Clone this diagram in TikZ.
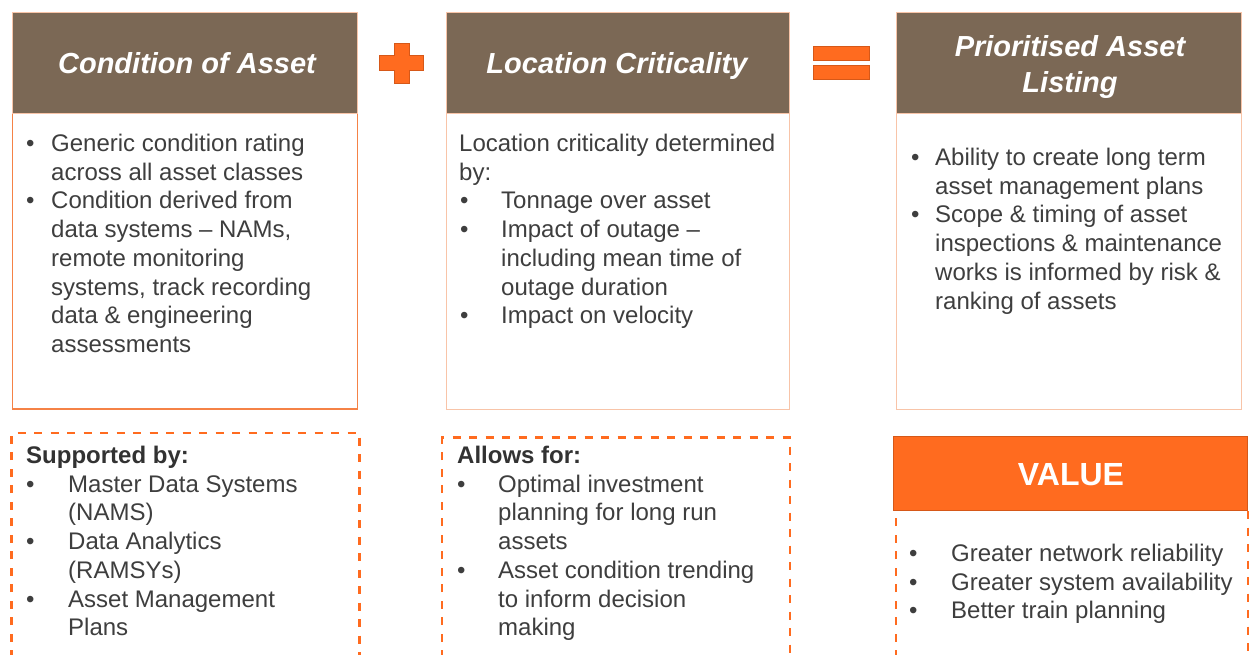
\documentclass[tikz,border=0pt]{standalone}
\usepackage{fontspec}
\setmainfont{Liberation Sans}
\usepackage{array}
\definecolor{hbrown}{RGB}{123,104,85}
\definecolor{borange}{RGB}{255,107,31}
\definecolor{dorange}{RGB}{214,88,24}
\definecolor{lorange}{RGB}{248,196,168}
\definecolor{morange}{RGB}{245,130,70}
\definecolor{tgray}{RGB}{62,62,62}
\tikzset{
  hdrbox/.style={fill=hbrown, draw=lorange, line width=0.8pt},
  hdrtext/.style={text=white, font=\fontsize{29}{36}\selectfont\bfseries\itshape, inner sep=0, anchor=base},
  bodytext/.style={text=tgray, font=\fontsize{24}{28.7}\selectfont, inner sep=0, anchor=base west},
  dashbox/.style={draw=borange, line width=2.4pt, dash pattern=on 8pt off 8.5pt},
  sym/.style={fill=borange, draw=dorange, line width=0.8pt}
}
\begin{document}
\begin{tikzpicture}[x=1pt,y=-1pt]
\useasboundingbox (0,0) rectangle (1253,654);
\fill[white] (0,0) rectangle (1253,654);
% bodies
\draw[draw=morange, line width=1.8pt] (12.5,113) rectangle (357.5,409);
\draw[draw=lorange, line width=1pt] (446,113) rectangle (789,409);
\draw[draw=lorange, line width=1pt] (896.5,113) rectangle (1241,409);
% headers
\draw[hdrbox] (12.5,12) rectangle (357.5,113);
\draw[hdrbox] (446,12) rectangle (789,113);
\draw[hdrbox] (896.5,12) rectangle (1241,113);
\node[hdrtext] (t1) at (187,73.5) {Condition of Asset};
\node[hdrtext] (t2) at (617,73.5) {Location Criticality};
\node[hdrtext] (t3a) at (1070,56.5) {Prioritised Asset};
\node[hdrtext] (t3b) at (1070,92) {Listing};
% plus
\draw[sym] (394,43) -- (409,43) -- (409,55) -- (423,55) -- (423,70) -- (409,70) -- (409,83) -- (394,83) -- (394,70) -- (379,70) -- (379,55) -- (394,55) -- cycle;
% equals
\draw[sym] (813,46.5) rectangle (869,60.5);
\draw[sym] (813,65.5) rectangle (869,79.5);
% body texts
\node[bodytext] (b1) at (26,151.5) {\begin{tabular}[t]{@{}p{25pt}@{}l@{}}
•& Generic condition rating\\
 & across all asset classes\\
•& Condition derived from\\
 & data systems – NAMs,\\
 & remote monitoring\\
 & systems, track recording\\
 & data \& engineering\\
 & assessments
\end{tabular}};
\node[bodytext] (b2) at (459,151.5) {\begin{tabular}[t]{@{}p{42pt}@{}l@{}}
\multicolumn{2}{@{}l@{}}{Location criticality determined}\\
\multicolumn{2}{@{}l@{}}{by:}\\
\hspace*{1pt}•& Tonnage over asset\\
\hspace*{1pt}•& Impact of outage –\\
 & including mean time of\\
 & outage duration\\
\hspace*{1pt}•& Impact on velocity
\end{tabular}};
\node[bodytext] (b3) at (911,165.5) {\begin{tabular}[t]{@{}p{24pt}@{}l@{}}
•& Ability to create long term\\
 & asset management plans\\
•& Scope \& timing of asset\\
 & inspections \& maintenance\\
 & works is informed by risk \&\\
 & ranking of assets
\end{tabular}};
% dashed boxes
\draw[dashbox] (11.5,658) -- (11.5,433) -- (359.5,433) -- (359.5,658);
\draw[dashbox] (442,658) -- (442,437.5) -- (790,437.5) -- (790,658);
\draw[dashbox] (896,658) -- (896,511) (1248,511) -- (1248,658);
\draw[fill=borange, draw=dorange, line width=0.8pt] (893.5,436) rectangle (1247.5,510.5);
\node[hdrtext, font=\fontsize{32}{38}\selectfont\bfseries] (val) at (1071,485) {VALUE};
\node[bodytext] (d1) at (26,463.5) {\begin{tabular}[t]{@{}p{42pt}@{}l@{}}
\multicolumn{2}{@{}l@{}}{\bfseries\color{tgray!80!black}Supported by:}\\
•& Master Data Systems\\
 & (NAMS)\\
•& Data Analytics\\
 & (RAMSYs)\\
•& Asset Management\\
 & Plans
\end{tabular}};
\node[bodytext] (d2) at (457,463.5) {\begin{tabular}[t]{@{}p{41pt}@{}l@{}}
\multicolumn{2}{@{}l@{}}{\bfseries\color{tgray!80!black}Allows for:}\\
•& Optimal investment\\
 & planning for long run\\
 & assets\\
•& Asset condition trending\\
 & to inform decision\\
 & making
\end{tabular}};
\node[bodytext] (d3) at (909,561.5) {\begin{tabular}[t]{@{}p{42pt}@{}l@{}}
•& Greater network reliability\\
•& Greater system availability\\
•& Better train planning
\end{tabular}};
\end{tikzpicture}
\end{document}
